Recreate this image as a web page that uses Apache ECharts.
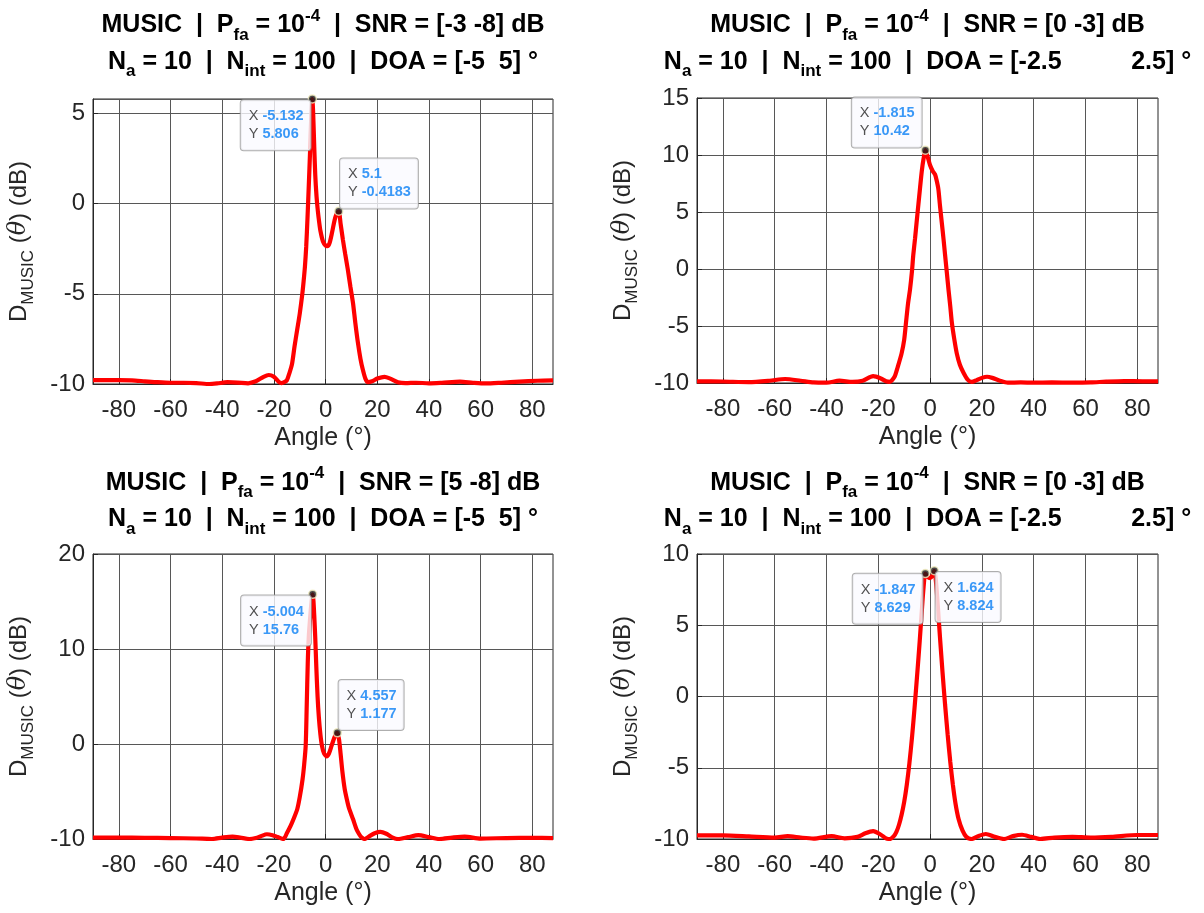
<!DOCTYPE html>
<html><head><meta charset="utf-8">
<script src="https://cdn.jsdelivr.net/npm/echarts@6/dist/echarts.min.js"></script>
<style>html,body{margin:0;padding:0;background:#fff}#c{width:1204px;height:913px}</style>
</head><body><div id="c"></div>
<script>
// ---------------- DATA ----------------
const xTicks = [-80, -60, -40, -20, 0, 20, 40, 60, 80];
const xRange = [-90, 88];

// Panel A (top-left)
const angA = [-90,-85,-80,-75,-70,-65,-60,-55,-50,-45,-42,-38,-34,-30,-27,-24,-22,-20,-18,-17,-16,-15,-14,-13,-12,-11,-10,-9,-8.5,-8,-7.5,-7,-6.5,-6,-5.6,-5.132,-4.8,-4.4,-4,-3.5,-3,-2.5,-2,-1,0,0.65,1.5,2.5,3.5,4.3,5.1,5.8,6.7,7.6,8.6,9.6,10.6,11.5,12.5,13.5,14.4,15.4,16.4,18,20,22.8,25,28,31,35,40,45,52,57,62,68,75,82,88];
const valA = [-9.78,-9.78,-9.78,-9.8,-9.85,-9.9,-9.93,-9.93,-9.95,-10,-9.97,-9.9,-9.92,-9.96,-9.85,-9.6,-9.5,-9.6,-9.9,-9.95,-9.9,-9.8,-9.4,-8.9,-7.9,-7.0,-6.1,-5.0,-4.3,-3.5,-2.4,-0.8,1.0,2.9,4.6,5.806,5.0,3.2,1.6,0.4,-0.4,-1.0,-1.5,-2.1,-2.33,-2.36,-2.2,-1.6,-0.9,-0.55,-0.4183,-1.1,-2.0,-2.8,-3.65,-4.6,-5.5,-6.6,-7.7,-8.6,-9.2,-9.7,-9.9,-9.85,-9.7,-9.6,-9.7,-9.9,-9.95,-9.93,-9.96,-9.93,-9.87,-9.93,-9.97,-9.93,-9.87,-9.82,-9.8];
const tipsA = [[-5.132, 5.806], [5.1, -0.4183]];
const yRangeA = [-10, 5.806];
const yStepA = 5;

// Panel B (top-right)
const angB = [-90,-80,-70,-62,-56,-50,-45,-40,-35,-30,-26,-22,-19,-17,-15.5,-14.5,-13.6,-12.5,-11,-10,-9.3,-8.5,-7.75,-7,-6.5,-5.8,-5.2,-4.5,-3.9,-3.2,-2.5,-1.815,-1,0,1,1.9,2.5,3.2,3.8,4.5,5.2,5.8,6.5,7.1,7.8,8.4,9.3,10.3,11.5,12.9,14.5,16,18,20,22,24,27,30,35,40,47,55,62,68,75,82,88];
const valB = [-9.85,-9.87,-9.92,-9.8,-9.65,-9.8,-9.95,-9.97,-9.8,-9.9,-9.8,-9.4,-9.6,-9.85,-9.9,-9.7,-9.4,-8.6,-7.4,-6.2,-4.7,-3.0,-1.8,-0.2,1.2,2.7,4.1,5.7,7.06,8.6,9.7,10.42,9.9,9.1,8.6,8.3,7.8,7.0,5.6,4.1,2.6,1.2,-0.4,-1.8,-3.3,-4.7,-6.1,-7.4,-8.4,-9.1,-9.7,-9.9,-9.75,-9.55,-9.45,-9.55,-9.8,-9.97,-9.95,-9.97,-9.95,-9.97,-9.95,-9.88,-9.83,-9.85,-9.86];
const tipsB = [[-1.815, 10.42]];
const yRangeB = [-10, 15];
const yStepB = 5;

// Panel C (bottom-left)
const angC = [-90,-80,-70,-60,-50,-44,-40,-36,-33,-29.5,-27,-25,-22.7,-20.5,-18.5,-16.3,-15,-13.5,-12.4,-11,-10,-8.9,-8.3,-7.7,-7.3,-6.9,-6.5,-6,-5.6,-5.3,-5.004,-4.7,-4.4,-4.0,-3.6,-3.1,-2.6,-2.0,-1.4,-0.6,0.4,1.3,2.3,3.3,4,4.557,5.2,5.8,6.5,7.4,8.2,9,10.6,12,13,13.8,15.1,17,19,21.2,23.5,26,28,32,35.9,40,44,49,53.8,60,70,80,88];
const valC = [-9.85,-9.85,-9.88,-9.9,-9.95,-10,-9.85,-9.75,-9.85,-10,-9.9,-9.7,-9.5,-9.6,-9.8,-10,-9.4,-8.6,-7.9,-6.9,-5.6,-3.7,-2.2,-0.2,4,8.5,11.3,13.2,14.5,15.3,15.76,15.1,13.6,11.2,8.2,5.0,2.8,1.0,-0.2,-1.0,-1.3,-1.0,-0.2,0.6,1.05,1.177,0.5,-1.0,-2.9,-4.75,-5.8,-6.7,-7.9,-9.0,-9.5,-9.8,-10,-9.7,-9.4,-9.26,-9.45,-9.85,-10,-9.8,-9.6,-9.8,-10,-9.85,-9.75,-9.95,-9.9,-9.88,-9.9];
const tipsC = [[-5.004, 15.76], [4.557, 1.177]];
const yRangeC = [-10, 20];
const yStepC = 10;

// Panel D (bottom-right)
const angD = [-90,-80,-70,-60,-55,-50,-45,-38,-33,-28,-25,-22,-19,-17,-15.5,-14,-13,-12,-11,-10,-9,-8,-7,-6,-5,-4,-3.2,-2.5,-1.847,-1,0,0.8,1.624,2.3,3,3.8,4.8,5.8,6.8,7.8,8.8,9.8,11,12.5,14,16,18.5,21.5,25,28.5,32,35.5,39,42.5,48,55,62,70,80,88];
const valD = [-9.75,-9.75,-9.82,-9.9,-9.8,-9.9,-9.97,-9.8,-9.95,-9.85,-9.6,-9.45,-9.7,-9.95,-10,-9.8,-9.5,-9.0,-8.3,-7.4,-6.2,-4.7,-2.9,-0.8,1.5,3.9,6.0,7.7,8.629,8.4,8.3,8.45,8.824,8.0,6.3,4.2,1.7,-0.6,-2.7,-4.6,-6.2,-7.5,-8.6,-9.4,-9.85,-10,-9.8,-9.65,-9.85,-10,-9.8,-9.7,-9.85,-10,-9.9,-9.85,-9.9,-9.85,-9.72,-9.72];
const tipsD = [[-1.847, 8.629], [1.624, 8.824]];
const yRangeD = [-10, 10];
const yStepD = 5;

// Titles (text content)
const title1A = '{b|MUSIC  |  P}{sub|fa}{b| = 10}{sup|-4}{b|  |  SNR = [-3 -8] dB}';
const title2A = '{b|N}{sub|a}{b| = 10  |  N}{sub|int}{b| = 100  |  DOA = [-5  5] °}';
const title1B = '{b|MUSIC  |  P}{sub|fa}{b| = 10}{sup|-4}{b|  |  SNR = [0 -3] dB}';
const title2B = '{b|N}{sub|a}{b| = 10  |  N}{sub|int}{b| = 100  |  DOA = [-2.5          2.5] °}';
const title1C = '{b|MUSIC  |  P}{sub|fa}{b| = 10}{sup|-4}{b|  |  SNR = [5 -8] dB}';
const title2C = title2A;
const title1D = title1B;
const title2D = title2B;
const xName = 'Angle (°)';
const yName = '{d|D}{s|MUSIC}{d| (}{i|θ}{d|) (dB)}';

// ---------------- STYLE / LAYOUT ----------------
const FONT = '"Liberation Sans", Arial, Helvetica, sans-serif';
const TXT = '#262626';
const GRIDC = '#575757';

const panels = [
  {ang: angA, val: valA, tips: tipsA, yr: yRangeA, ys: yStepA, t1: title1A, t2: title2A,
   rect: {left: 93, top: 99, width: 460, height: 285}, ty: [25.5, 62],
   place: [{pos: [3, 6], align: 'right', v: 'top'}, {pos: [6, 2], align: 'left', v: 'bottom'}]},
  {ang: angB, val: valB, tips: tipsB, yr: yRangeB, ys: yStepB, t1: title1B, t2: title2B,
   rect: {left: 697, top: 98, width: 461, height: 285}, ty: [25.5, 62],
   place: [{pos: [1, 2], align: 'right', v: 'bottom'}]},
  {ang: angC, val: valC, tips: tipsC, yr: yRangeC, ys: yStepC, t1: title1C, t2: title2C,
   rect: {left: 93, top: 554, width: 460, height: 285}, ty: [483, 519.5],
   place: [{pos: [3, 6], align: 'right', v: 'top'}, {pos: [6, 2], align: 'left', v: 'bottom'}]},
  {ang: angD, val: valD, tips: tipsD, yr: yRangeD, ys: yStepD, t1: title1D, t2: title2D,
   rect: {left: 697, top: 554, width: 461, height: 285}, ty: [483, 519.5],
   place: [{pos: [2, 5], align: 'right', v: 'top'}, {pos: [6, 6], align: 'left', v: 'top'}]}
];

const titleRich = {
  b: {fontSize: 25, fontWeight: 'bold', fontFamily: FONT, fill: '#000', lineHeight: 36, verticalAlign: 'middle'},
  sub: {fontSize: 17, fontWeight: 'bold', fontFamily: FONT, fill: '#000', lineHeight: 6, verticalAlign: 'bottom'},
  sup: {fontSize: 17, fontWeight: 'bold', fontFamily: FONT, fill: '#000', lineHeight: 26, verticalAlign: 'top'}
};

const grids = [], xAxes = [], yAxes = [], series = [], graphics = [];
panels.forEach((p, i) => {
  grids.push(Object.assign({show: true, borderColor: TXT, borderWidth: 1, backgroundColor: '#fff',
    containLabel: false, outerBoundsMode: 'none'}, p.rect));
  xAxes.push({
    gridIndex: i, type: 'value', min: xRange[0], max: xRange[1],
    axisLine: {show: true, onZero: false, lineStyle: {color: TXT, width: 1}},
    axisTick: {show: true, inside: true, length: 5, customValues: xTicks, lineStyle: {color: TXT}},
    axisLabel: {customValues: xTicks, color: TXT, fontSize: 24, fontFamily: FONT, margin: 14},
    splitLine: {show: true, lineStyle: {color: GRIDC, width: 1}},
    name: xName, nameLocation: 'middle', nameGap: 42,
    nameTextStyle: {fontSize: 25, fontFamily: FONT, color: TXT}
  });
  yAxes.push({
    gridIndex: i, type: 'value', min: p.yr[0], max: p.yr[1], interval: p.ys,
    axisLine: {show: true, onZero: false, lineStyle: {color: TXT, width: 1}},
    axisTick: {show: true, inside: true, length: 5, lineStyle: {color: TXT}},
    axisLabel: {color: TXT, fontSize: 24, fontFamily: FONT, margin: 8,
      showMaxLabel: (p.yr[1] % p.ys === 0), showMinLabel: true},
    splitLine: {show: true, lineStyle: {color: GRIDC, width: 1}},
    name: yName, nameLocation: 'middle', nameGap: 56, nameRotate: 90,
    nameTextStyle: {fontSize: 24, fontFamily: FONT, color: TXT,
      rich: {
        d: {fontSize: 24, fontFamily: FONT, color: TXT, lineHeight: 36, verticalAlign: 'middle'},
        s: {fontSize: 17, fontFamily: FONT, color: TXT, lineHeight: 12, verticalAlign: 'bottom'},
        i: {fontSize: 24, fontFamily: '"DejaVu Serif", serif', fontStyle: 'italic', color: TXT, lineHeight: 36, verticalAlign: 'middle'}
      }}
  });
  series.push({
    type: 'line', xAxisIndex: i, yAxisIndex: i, showSymbol: false, smooth: 0.25,
    data: p.ang.map((a, k) => [a, p.val[k]]),
    lineStyle: {color: '#ff0000', width: 4.2}, z: 3, silent: true, animation: false
  });
  series.push({
    type: 'scatter', xAxisIndex: i, yAxisIndex: i, symbolSize: 8, z: 6, clip: false, silent: true, animation: false,
    itemStyle: {color: '#1c1c1c', borderColor: '#f2eec0', borderWidth: 1.5},
    data: p.tips.map((t, k) => ({value: t, label: {position: p.place[k].pos, align: p.place[k].align, verticalAlign: p.place[k].v}})),
    label: {
      show: true,
      formatter: q => '{k|X }{v|' + q.value[0] + '}\n{k|Y }{v|' + q.value[1] + '}',
      backgroundColor: '#fafaff', borderColor: '#9a9a9a', borderWidth: 1, borderRadius: 3,
      padding: [7, 7, 7, 8],
      rich: {
        k: {fontSize: 14.5, color: '#262626', fontFamily: FONT, lineHeight: 18, align: 'left'},
        v: {fontSize: 14.5, color: '#0a80f5', fontWeight: 'bold', fontFamily: FONT, lineHeight: 18, align: 'left'}
      }
    }
  });
  const cx = p.rect.left + p.rect.width / 2;
  [p.t1, p.t2].forEach((t, k) => {
    graphics.push({type: 'text', x: cx, y: p.ty[k], z: 10, silent: true,
      style: {text: t, rich: titleRich, align: 'center', verticalAlign: 'middle',
        textAlign: 'center', textVerticalAlign: 'middle', fill: '#000',
        fontSize: 25, fontWeight: 'bold', fontFamily: FONT}});
  });
});

const chart = echarts.init(document.getElementById('c'), null, {renderer: 'canvas'});
chart.setOption({
  animation: false,
  backgroundColor: '#fff',
  grid: grids, xAxis: xAxes, yAxis: yAxes, series: series, graphic: graphics
});
</script></body></html>
